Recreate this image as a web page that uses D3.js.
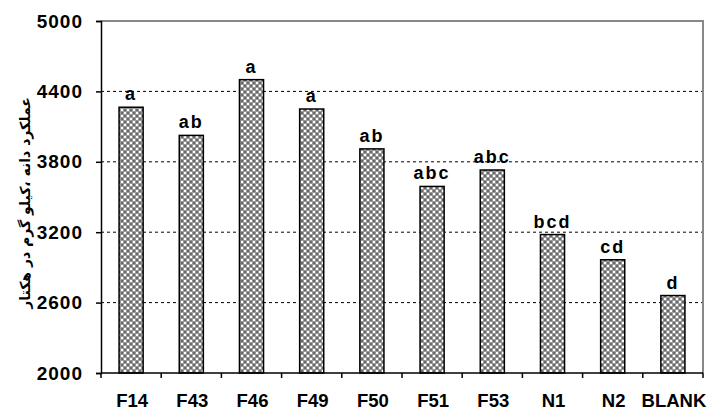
<!DOCTYPE html>
<html>
<head>
  <meta charset="utf-8">
  <style>
    body{
      margin:0;
      background:#fff;
    }
    text{
      font-family: "Liberation Sans", Arial, sans-serif;
      font-weight: bold;
      fill:#000;
    }
    .y-title{
      font-family: "DejaVu Sans", sans-serif;
      font-size: 14px;
    }
  </style>
  <script src="https://d3js.org/d3.v7.min.js"></script>
</head>
<body>
<div class="chart"></div>
<script>
const categories = ['F14', 'F43', 'F46', 'F49', 'F50', 'F51', 'F53', 'N1', 'N2', 'BLANK'];
const yields = [4265, 4025, 4500, 4250, 3910, 3590, 3730, 3180, 2965, 2660];
const letters = ['a', 'ab', 'a', 'a', 'ab', 'abc', 'abc', 'bcd', 'cd', 'd'];
const yTicks = [2000, 2600, 3200, 3800, 4400, 5000];
const yTitle = 'عملکرد دانه ،کیلو گرم در هکتار';

const width = 709;
const height = 411;
const margin = {top: 21, right: 6, bottom: 38, left: 101};

const data = categories.map((c, i) => ({name: c, value: yields[i], letter: letters[i]}));

const svg = d3.select('.chart')
  .append('svg')
  .attr('width', width)
  .attr('height', height);

// hatch-like fill used by the bars
const pat = svg.append('defs').append('pattern')
  .attr('id', 'checks')
  .attr('width', 6)
  .attr('height', 6)
  .attr('patternUnits', 'userSpaceOnUse');
pat.append('rect').attr('width', 6).attr('height', 6).attr('fill', '#9a9a9a');
pat.append('rect').attr('x', 1).attr('y', 1).attr('width', 2).attr('height', 2).attr('fill', '#fff');
pat.append('rect').attr('x', 4).attr('y', 4).attr('width', 2).attr('height', 2).attr('fill', '#fff');
pat.append('rect').attr('x', 4).attr('y', 1).attr('width', 2).attr('height', 2).attr('fill', '#6a6a6a');
pat.append('rect').attr('x', 1).attr('y', 4).attr('width', 2).attr('height', 2).attr('fill', '#6a6a6a');

const x = d3.scaleBand()
  .domain(categories)
  .range([margin.left, width - margin.right])
  .paddingInner(0.6)
  .paddingOuter(0.3);

const y = d3.scaleLinear()
  .domain([2000, 5000])
  .range([height - margin.bottom, margin.top]);

// grid lines
svg.append('g')
  .selectAll('line')
  .data(yTicks.filter(t => t > 2000 && t < 5000))
  .join('line')
  .attr('x1', margin.left)
  .attr('x2', width - margin.right)
  .attr('y1', d => y(d))
  .attr('y2', d => y(d))
  .attr('stroke', '#000')
  .attr('stroke-width', 1)
  .attr('stroke-dasharray', '3,3');

// plot area border (top and right)
svg.append('path')
  .attr('d', `M${margin.left},${y(5000)}H${width - margin.right}V${y(2000)}`)
  .attr('fill', 'none')
  .attr('stroke', '#888')
  .attr('stroke-width', 2);

// bars
svg.append('g')
  .selectAll('rect')
  .data(data)
  .join('rect')
  .attr('x', d => x(d.name))
  .attr('y', d => y(d.value))
  .attr('width', x.bandwidth())
  .attr('height', d => y(2000) - y(d.value))
  .attr('fill', 'url(#checks)')
  .attr('stroke', '#000')
  .attr('stroke-width', 1.5);

// significance letters
svg.append('g')
  .selectAll('text')
  .data(data)
  .join('text')
  .attr('x', d => x(d.name) + x.bandwidth() / 2)
  .attr('y', d => y(d.value) - 7)
  .attr('text-anchor', 'middle')
  .style('font-size', '18px')
  .style('letter-spacing', '2px')
  .text(d => d.letter);

// y axis
const yAxis = svg.append('g')
  .attr('transform', `translate(${margin.left},0)`)
  .call(d3.axisLeft(y).tickValues(yTicks).tickSize(5).tickPadding(13).tickFormat(d3.format('d')));
yAxis.select('.domain').attr('stroke', '#000').attr('stroke-width', 1.5);
yAxis.selectAll('.tick line').attr('stroke', '#000').attr('stroke-width', 1.5);
yAxis.selectAll('.tick text')
  .style('font-size', '19px')
  .style('letter-spacing', '1px')
  .style('font-family', '"Liberation Sans", Arial, sans-serif')
  .style('font-weight', 'bold')
  .attr('fill', '#000');

// x axis: line plus ticks between categories
const xAxis = svg.append('g');
xAxis.append('line')
  .attr('x1', margin.left)
  .attr('x2', width - margin.right)
  .attr('y1', y(2000))
  .attr('y2', y(2000))
  .attr('stroke', '#000')
  .attr('stroke-width', 1.5);
xAxis.selectAll('.xtick')
  .data(d3.range(categories.length + 1))
  .join('line')
  .attr('class', 'xtick')
  .attr('x1', i => margin.left + i * x.step())
  .attr('x2', i => margin.left + i * x.step())
  .attr('y1', y(2000))
  .attr('y2', y(2000) + 5)
  .attr('stroke', '#000')
  .attr('stroke-width', 1.5);
xAxis.selectAll('.xlabel')
  .data(categories)
  .join('text')
  .attr('class', 'xlabel')
  .attr('x', d => x(d) + x.bandwidth() / 2 + 1)
  .attr('y', 407)
  .attr('text-anchor', 'middle')
  .style('font-size', '18.5px')
  .text(d => d);

// y title
svg.append('text')
  .attr('class', 'y-title')
  .attr('transform', `translate(30,${(y(2000) + y(5000)) / 2 + 6}) rotate(-90)`)
  .attr('text-anchor', 'middle')
  .attr('direction', 'rtl')
  .text(yTitle);
</script>
</body>
</html>
